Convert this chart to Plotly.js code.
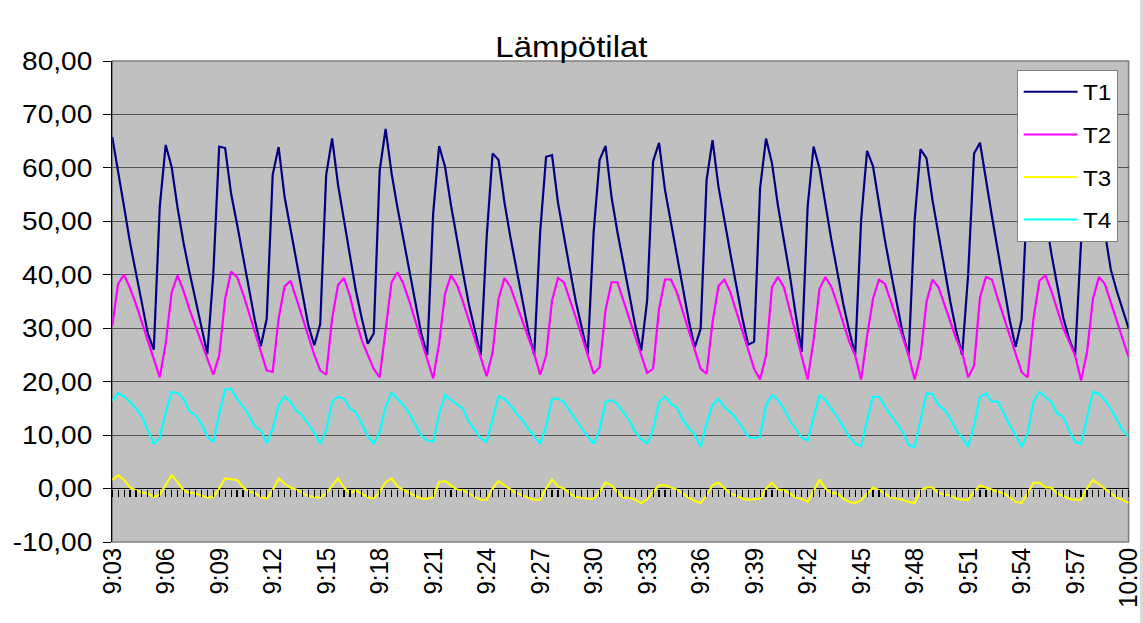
<!DOCTYPE html>
<html><head><meta charset="utf-8">
<script src="https://cdn.plot.ly/plotly-3.0.1.min.js"></script>
<style>
html,body{margin:0;padding:0;background:#fff;overflow:hidden;}
#wrap{position:absolute;left:0;top:0;width:1143px;height:623px;overflow:hidden;}
#chart{position:absolute;left:0;top:0;width:1039px;height:623px;transform:scaleX(1.1);transform-origin:0 0;}
#edge{position:absolute;left:1140px;top:0;width:3px;height:623px;background:#d9d9d9;}
</style></head><body>
<div id="wrap"><div id="chart"></div><div id="edge"></div></div>
<script>
const timeLabels = ["9:03","9:06","9:09","9:12","9:15","9:18","9:21","9:24","9:27","9:30",
  "9:33","9:36","9:39","9:42","9:45","9:48","9:51","9:54","9:57","10:00"];

const T1 = [
65.8,59.6,52.7,46.0,40.2,34.8,29.0,26.0,52.7,
64.3,60.2,52.5,46.0,40.5,35.5,30.0,25.2,40.0,
64.0,63.7,55.2,49.5,43.5,37.5,31.5,26.6,31.8,
58.7,63.9,54.6,48.5,42.0,36.0,30.5,26.8,30.8,
58.7,65.5,56.8,50.0,43.5,37.0,31.8,27.1,29.0,
59.5,67.3,59.0,52.5,46.5,40.5,34.5,29.0,25.0,
51.5,64.1,60.2,53.0,46.5,40.5,34.5,29.5,24.9,
47.0,62.7,61.5,53.5,47.0,41.0,35.0,29.5,25.0,
48.0,62.1,62.4,53.5,47.0,41.0,35.0,30.0,25.2,
48.0,61.5,64.1,54.6,48.0,42.0,36.0,30.5,25.8,
35.2,61.2,64.7,55.9,49.6,43.5,37.5,31.5,26.4,
29.9,57.7,65.2,56.5,50.0,44.0,38.0,32.0,26.9,
27.5,56.2,65.5,60.9,53.0,46.5,40.0,32.5,25.6,
52.7,64.0,59.9,53.0,46.5,40.5,34.5,29.5,25.0,
50.2,63.2,60.3,53.0,46.5,40.5,34.5,29.0,24.9,
50.2,63.5,61.8,54.0,47.5,41.0,35.0,29.5,25.0,
40.0,62.7,64.7,57.5,51.0,44.5,38.0,31.5,26.5,
31.6,56.0,64.0,58.0,50.5,44.0,38.0,32.0,28.0,
25.0,46.0,62.0,64.5,57.0,48.0,41.0,37.0,33.5,
30.0];

const T2 = [
30.4,38.3,40.0,37.5,34.5,31.0,27.5,24.0,20.8,
27.1,36.7,39.9,37.0,33.5,30.5,27.5,24.5,21.3,
24.9,35.5,40.6,39.6,36.5,33.0,29.5,26.0,22.1,
21.8,31.8,37.8,38.9,35.5,32.0,28.5,25.0,22.1,
21.3,31.8,38.1,39.4,36.0,31.5,27.7,25.0,22.4,
20.8,30.0,38.6,40.5,38.3,35.0,31.5,28.0,24.3,
20.6,27.1,36.5,39.9,38.1,35.0,31.5,28.0,24.9,
21.0,25.5,35.5,39.4,37.7,34.5,31.5,28.5,25.2,
21.3,24.9,35.2,39.4,38.6,35.5,32.0,28.5,24.9,
21.5,22.7,33.4,38.6,38.6,35.2,31.8,28.4,25.0,
21.6,22.4,33.6,39.1,39.1,36.7,33.0,29.5,26.0,
22.4,21.5,31.1,37.9,39.1,36.7,33.0,29.5,26.0,
22.4,20.4,24.9,37.7,39.6,37.7,33.5,29.0,24.5,
20.4,27.7,37.4,39.6,37.7,34.5,31.0,27.5,24.9,
20.4,28.5,35.5,39.1,38.3,35.0,31.5,28.0,24.9,
20.4,24.9,34.9,39.1,37.7,34.5,31.0,28.0,25.5,
20.8,23.0,35.8,39.6,39.1,35.5,32.0,28.5,25.0,
21.8,20.8,31.8,38.9,39.9,37.0,33.5,30.0,27.5,
24.9,20.2,25.5,35.5,39.6,38.3,35.0,31.5,28.0,
24.6];

const T3 = [
1.6,2.5,1.6,0.2,-0.3,-0.8,-0.9,-1.6,-1.1,
0.6,2.5,1.2,-0.3,-0.8,-0.9,-1.3,-1.7,-1.6,
0.0,1.9,1.7,1.6,0.3,-0.6,-0.8,-1.6,-1.9,
-0.3,1.9,0.9,0.2,-0.2,-0.8,-1.4,-1.6,-1.7,
-0.9,0.4,1.9,0.2,-0.9,-0.3,-0.9,-1.6,-1.9,
-0.6,1.2,1.9,0.4,-0.3,-0.8,-1.3,-1.9,-1.9,
-1.6,1.2,1.4,0.6,-0.2,-0.3,-0.9,-1.6,-2.1,
-2.1,0.0,1.4,0.6,-0.2,-0.8,-1.3,-1.7,-2.1,
-2.1,0.0,1.7,0.4,0.0,-0.9,-1.6,-1.7,-1.9,
-1.9,-0.6,1.1,0.6,-0.6,-1.7,-1.7,-2.1,-2.7,
-2.0,-0.6,0.6,0.6,0.2,-0.2,-0.9,-1.7,-2.3,
-2.7,-1.3,0.6,1.1,0.0,-0.9,-1.3,-1.9,-2.1,
-2.0,-1.9,0.0,1.1,-0.2,-0.3,-0.9,-1.7,-1.9,
-2.5,-0.5,1.7,0.0,-0.9,-0.9,-1.9,-2.5,-2.7,
-2.2,-0.9,0.2,-0.3,-0.9,-1.7,-1.9,-2.1,-2.5,
-2.7,-0.3,0.2,0.2,-0.8,-1.1,-1.3,-1.9,-2.1,
-2.1,-0.6,0.6,0.2,-0.3,-0.6,-0.9,-1.6,-2.5,
-2.7,-0.9,1.1,1.1,0.2,0.2,-0.9,-1.4,-1.9,
-2.1,-2.1,0.0,1.6,0.8,0.0,-0.9,-1.7,-2.1,
-2.7];

const T4 = [
16.4,17.9,17.2,16.2,15.0,13.5,10.9,8.4,9.4,
14.3,18.1,17.9,16.8,14.5,13.7,12.1,9.8,8.7,
14.0,18.5,18.7,16.8,15.4,13.7,11.6,10.9,8.5,
11.2,15.6,17.2,16.2,14.5,13.7,12.1,10.4,8.4,
10.9,16.2,17.2,16.8,15.0,14.3,12.1,9.8,8.4,
10.6,15.3,17.9,16.8,15.6,14.1,12.1,9.9,9.0,
8.7,14.0,17.5,16.6,15.8,15.0,12.5,11.0,9.4,
8.7,12.8,17.3,16.8,15.6,14.0,12.8,11.2,9.7,
8.4,11.6,16.8,16.8,16.2,14.5,12.9,11.5,9.7,
8.4,10.9,16.2,16.6,15.8,14.3,12.8,10.6,9.2,
8.4,11.0,16.2,17.2,15.8,15.2,12.8,11.4,10.0,
7.8,12.2,15.6,16.8,15.2,14.3,13.1,11.5,9.7,
9.4,9.7,15.6,17.5,16.5,15.0,12.8,11.2,9.5,
9.0,13.4,17.5,16.5,15.0,13.4,11.5,9.7,8.4,
7.9,12.8,17.2,17.2,15.3,13.7,12.2,10.6,8.1,
7.8,12.8,17.8,17.7,15.6,14.8,13.1,10.9,9.5,
7.8,11.8,17.2,17.8,16.3,16.3,14.1,11.8,10.0,
7.8,10.3,16.2,18.1,17.2,16.2,14.0,13.4,10.9,
8.7,8.4,13.4,18.1,17.7,16.5,15.0,13.1,10.9,
9.7];

const seriesNames = ["T1","T2","T3","T4"];
const seriesValues = [T1, T2, T3, T4];
const seriesColors = ["#000080","#FF00FF","#FFFF00","#00FFFF"];

const yTickVals = [-10,0,10,20,30,40,50,60,70,80];
const yTickText = ["-10,00","0,00","10,00","20,00","30,00","40,00","50,00","60,00","70,00","80,00"];

const FONT = '"Liberation Sans", Arial, sans-serif';
const samplesPerLabel = 9;
const idx = T1.map((_, i) => i);
const lastIdx = idx.length - 1;
const tickIdx = timeLabels.map((_, k) => k * samplesPerLabel);

const traces = [{
  x: [0, lastIdx], y: [null, null], xaxis: 'x2', yaxis: 'y',
  mode: 'lines', showlegend: false, hoverinfo: 'skip'
}];
seriesNames.forEach((name, s) => {
  traces.push({
    x: idx, y: seriesValues[s], name: name, type: 'scatter', mode: 'lines',
    line: {color: seriesColors[s], width: 2}, legendgroup: name
  });
});

const layout = {
  width: 1039, height: 623,
  margin: {l: 102, r: 13.4, t: 61, b: 81.3, pad: 0},
  paper_bgcolor: '#ffffff', plot_bgcolor: '#C0C0C0',
  font: {family: FONT, color: '#000'},
  title: {text: 'Lämpötilat', font: {size: 30, family: FONT, color: '#000'},
          x: 0.5, xref: 'container', xanchor: 'center',
          y: 1 - 47/623, yref: 'container', yanchor: 'middle'},
  xaxis: {range: [0, lastIdx], tickmode: 'array', tickvals: tickIdx, ticktext: timeLabels,
          tickangle: -90, showgrid: false, zeroline: false, showline: false, ticks: '',
          tickfont: {size: 24, family: FONT, color: '#000'}, automargin: false},
  xaxis2: {overlaying: 'x', anchor: 'free', position: 10/90, side: 'bottom',
           range: [0, lastIdx], tickmode: 'linear', tick0: 0, dtick: 1,
           ticks: 'outside', ticklen: 7, tickwidth: 1, tickcolor: '#000',
           showticklabels: false, showgrid: false, zeroline: false, showline: false},
  yaxis: {range: [-10, 80], tickmode: 'array', tickvals: yTickVals, ticktext: yTickText,
          showgrid: true, gridcolor: '#555555', gridwidth: 1,
          zeroline: true, zerolinecolor: '#000', zerolinewidth: 1,
          showline: true, linecolor: '#000', linewidth: 1,
          ticks: 'outside', ticklen: 7, tickcolor: '#000', tickwidth: 1,
          ticklabelstandoff: 5,
          tickfont: {size: 25.5, family: FONT, color: '#000'}, automargin: false},
  shapes: [{type: 'rect', xref: 'paper', yref: 'paper', x0: 0, x1: 1, y0: 0, y1: 1,
            line: {color: '#808080', width: 1.5}, layer: 'below'}],
  legend: {x: 0.8903, y: 0.9813, xanchor: 'left', yanchor: 'top',
           bgcolor: '#ffffff', bordercolor: '#808080', borderwidth: 1,
           font: {size: 22, family: FONT, color: '#000'},
           itemwidth: 49, tracegroupgap: 11, traceorder: 'grouped'},
  showlegend: true
};

Plotly.newPlot('chart', traces, layout, {staticPlot: true, displayModeBar: false});
</script>
</body></html>
